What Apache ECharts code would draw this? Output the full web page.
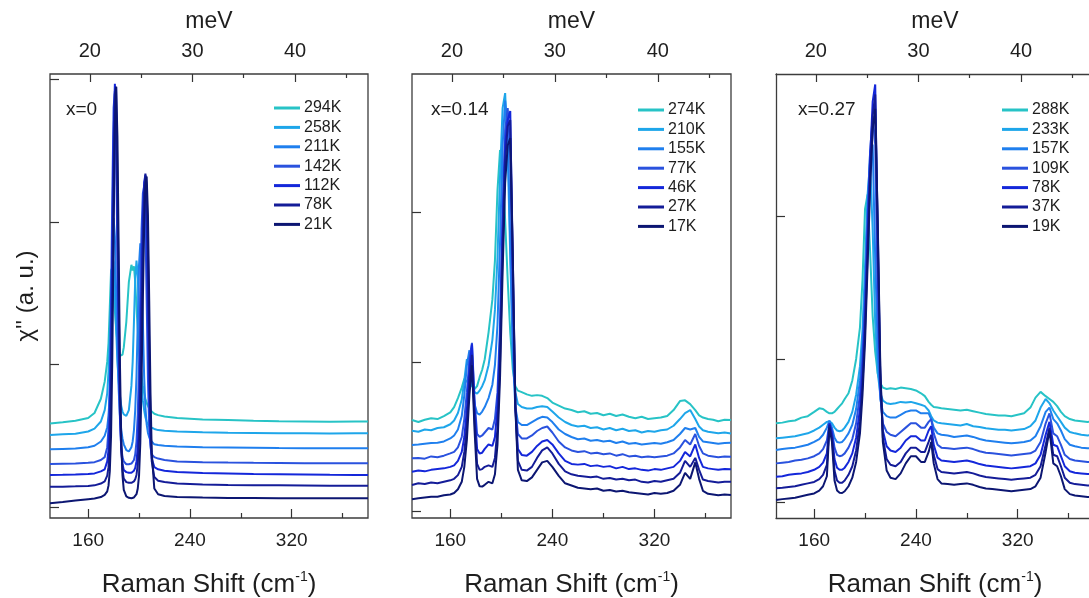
<!DOCTYPE html>
<html><head><meta charset="utf-8">
<script src="https://cdn.jsdelivr.net/npm/echarts@6/dist/echarts.min.js"></script>
<style>html,body{margin:0;padding:0;background:#fff}#c{width:1089px;height:598px}</style>
</head><body><div id="c"></div><script>
// ---------- DATA ----------
// Raman shift grids (cm^-1)
const shiftX0 = [130,140,150,160,165,170,173,175,176,177,178,179,180,181,182,183,184,185,186,187,188,190,192,194,195,196,197,198,199,200,201,202,203,204,205,206,207,208,209,210,212,215,220,230,250,270,290,310,330,350,370,380];
const shiftX014 = [130,135,140,145,150,155,160,163,166,169,171,173,175,177,179,181,183,185,187,190,193,195,197,199,201,203,205,207,209,211,213,216,220,224,228,232,236,240,245,250,255,260,265,270,275,280,285,290,295,300,305,310,315,320,325,330,335,340,344,348,352,355,358,362,366,370,375,380];
const shiftX027 = [130,135,140,145,150,155,160,164,167,170,172,174,176,178,180,182,184,187,190,193,196,198,200,202,204,206,208,210,212,214,217,220,224,228,232,236,240,244,247,250,252,254,257,260,265,270,275,280,285,290,295,300,305,310,315,320,325,330,334,338,342,345,348,351,354,357,361,365,370,375,380];

// x = 0 (chi'' in a.u., curves offset vertically)
const tempsX0 = ['294K','258K','211K','142K','112K','78K','21K'];
const x0_294K = [0.587,0.595,0.605,0.625,0.66,0.76,0.88, 1.02,1.15,1.40,1.66,1.68,1.55,1.38,1.25,1.16,1.10,1.06,1.05,1.07,1.12, 1.30,1.58,1.70, 1.66,1.69,1.58,1.40,1.25,1.10,1.00,0.92,0.85,0.80,0.76,0.73,0.71,0.69,0.68,0.67, 0.655,0.645,0.635,0.625, 0.615,0.61,0.605,0.602,0.60,0.598,0.60,0.60];
const x0_258K = [0.505,0.51,0.515,0.53,0.55,0.60,0.68, 0.80,0.95,1.20,1.50,1.76,1.72,1.52,1.25,1.02,0.88,0.78,0.71,0.67,0.65, 0.64,0.68,0.85, 1.02,1.30,1.60,1.73,1.62,1.35,1.08,0.88,0.75,0.68,0.63,0.60,0.58,0.57,0.56,0.555, 0.548,0.54,0.535,0.53, 0.525,0.522,0.52,0.518,0.517,0.516,0.517,0.517];
const x0_211K = [0.405,0.408,0.41,0.42,0.43,0.46,0.50, 0.56,0.64,0.80,1.15,1.65,2.03,1.90,1.50,1.10,0.82,0.64,0.54,0.48,0.44, 0.40,0.39,0.42, 0.46,0.54,0.68,0.92,1.30,1.70,1.85,1.70,1.30,0.92,0.70,0.58,0.52,0.49,0.47,0.46, 0.44,0.435,0.43,0.425, 0.42,0.418,0.416,0.414,0.413,0.412,0.412,0.412];
const x0_142K = [0.302,0.304,0.306,0.31,0.315,0.33,0.35, 0.42,0.55,0.85,1.45,2.2,2.8,2.92,2.5,1.75,1.05,0.62,0.42,0.35,0.32, 0.30,0.30,0.305, 0.31,0.33,0.37,0.46,0.65,1.0,1.5,1.95,2.2,2.25,2.0,1.45,0.9,0.55,0.42,0.37, 0.35,0.34,0.33,0.32, 0.315,0.312,0.31,0.309,0.308,0.307,0.307,0.307];
const x0_112K = [0.225,0.226,0.228,0.232,0.236,0.25,0.265, 0.32,0.40,0.62,1.1,1.85,2.6,2.97,2.75,2.0,1.2,0.65,0.40,0.30,0.26, 0.245,0.24,0.24, 0.245,0.255,0.275,0.32,0.42,0.65,1.05,1.55,2.0,2.28,2.33,2.05,1.45,0.85,0.48,0.34, 0.28,0.265,0.255,0.245, 0.238,0.235,0.232,0.23,0.228,0.226,0.225,0.225];
const x0_78K = [0.142,0.143,0.145,0.148,0.152,0.165,0.18, 0.22,0.28,0.45,0.85,1.5,2.3,2.9,2.95,2.3,1.45,0.8,0.42,0.26,0.2, 0.175,0.17,0.17, 0.172,0.18,0.195,0.225,0.3,0.48,0.85,1.35,1.85,2.2,2.34,2.25,1.8,1.1,0.6,0.32, 0.21,0.185,0.175,0.165, 0.158,0.155,0.153,0.152,0.151,0.15,0.149,0.149];
const x0_21K = [0.026,0.035,0.045,0.055,0.06,0.07,0.085, 0.11,0.15,0.25,0.5,1.05,1.9,2.65,2.95,2.6,1.8,1.0,0.48,0.22,0.12, 0.075,0.065,0.062, 0.063,0.067,0.075,0.09,0.13,0.22,0.45,0.9,1.45,1.95,2.25,2.32,2.05,1.45,0.8,0.38, 0.13,0.09,0.078,0.07, 0.066,0.064,0.063,0.062,0.062,0.061,0.061,0.061];

// x = 0.14
const tempsX014 = ['274K','210K','155K','77K','46K','27K','17K'];
const x014_274K = [0.613,0.60,0.615,0.625,0.62,0.64,0.665, 0.70,0.76,0.83, 0.89,0.87,0.86,0.84,0.82,0.84,0.90,0.95,1.02, 1.20,1.42, 1.68,2.15,2.42,2.30,1.95,1.55,1.20,0.95,0.84,0.81, 0.80,0.785,0.775,0.78,0.775,0.76,0.73, 0.71,0.69,0.68,0.665,0.672,0.655,0.66,0.645,0.655,0.64,0.65,0.635,0.625,0.635,0.62,0.625,0.63,0.64,0.68,0.74, 0.745,0.72,0.68,0.645,0.63,0.62,0.615,0.605,0.615,0.613];
const x014_210K = [0.542,0.535,0.55,0.545,0.56,0.565,0.585, 0.61,0.66,0.75, 0.88,1.02,0.98,0.86,0.80,0.79,0.81,0.84,0.88, 0.98,1.15, 1.35,1.70,2.25,2.70,2.80,2.40,1.70,1.10,0.80,0.72, 0.70,0.69,0.69,0.70,0.705,0.70,0.67, 0.63,0.60,0.58,0.57,0.575,0.56,0.565,0.55,0.56,0.545,0.555,0.54,0.545,0.53,0.54,0.535,0.545,0.55,0.575,0.62, 0.66,0.68,0.62,0.57,0.545,0.535,0.53,0.525,0.53,0.524];
const x014_155K = [0.446,0.45,0.455,0.46,0.462,0.47,0.49, 0.51,0.55,0.64, 0.78,0.98,1.08,0.90,0.72,0.66,0.65,0.67,0.70, 0.76,0.85, 0.98,1.25,1.80,2.45,2.75,2.55,1.80,1.05,0.70,0.60, 0.58,0.58,0.60,0.62,0.635,0.63,0.60, 0.55,0.52,0.50,0.485,0.49,0.475,0.48,0.47,0.475,0.46,0.47,0.455,0.46,0.45,0.455,0.46,0.455,0.465,0.48,0.52, 0.56,0.55,0.56,0.50,0.47,0.465,0.46,0.455,0.46,0.462];
const x014_77K = [0.357,0.36,0.355,0.37,0.365,0.375,0.39, 0.40,0.43,0.50, 0.62,0.80,1.02,1.13,0.75,0.52,0.50,0.51,0.53, 0.56,0.55, 0.62,0.80,1.25,2.00,2.55,2.70,2.40,1.40,0.70,0.52, 0.49,0.49,0.51,0.54,0.56,0.57,0.53, 0.47,0.43,0.41,0.40,0.405,0.39,0.395,0.385,0.39,0.375,0.385,0.37,0.375,0.365,0.37,0.365,0.37,0.375,0.39,0.43, 0.48,0.45,0.52,0.44,0.39,0.375,0.37,0.365,0.37,0.368];
const x014_46K = [0.268,0.275,0.27,0.28,0.285,0.29,0.30, 0.31,0.34,0.40, 0.50,0.68,0.95,1.12,0.70,0.42,0.39,0.395,0.42, 0.45,0.44, 0.50,0.70,1.15,1.90,2.45,2.62,2.68,1.60,0.70,0.42, 0.38,0.375,0.40,0.44,0.47,0.48,0.45, 0.39,0.34,0.32,0.315,0.32,0.305,0.31,0.30,0.305,0.29,0.30,0.285,0.29,0.28,0.275,0.285,0.28,0.29,0.30,0.34, 0.40,0.37,0.45,0.36,0.30,0.29,0.285,0.28,0.285,0.284];
const x014_27K = [0.179,0.19,0.185,0.195,0.19,0.20,0.21, 0.22,0.245,0.30, 0.40,0.58,0.88,1.05,0.62,0.32,0.28,0.285,0.30, 0.31,0.30, 0.36,0.56,1.00,1.75,2.35,2.58,2.62,1.70,0.70,0.34, 0.28,0.275,0.30,0.36,0.41,0.43,0.39, 0.32,0.27,0.25,0.24,0.235,0.23,0.235,0.22,0.225,0.215,0.22,0.21,0.215,0.20,0.195,0.205,0.20,0.21,0.22,0.26, 0.34,0.30,0.36,0.28,0.215,0.205,0.20,0.195,0.20,0.201];
const x014_17K = [0.083,0.09,0.095,0.10,0.10,0.11,0.115, 0.125,0.15,0.20, 0.30,0.48,0.78,0.98,0.55,0.22,0.17,0.168,0.18, 0.20,0.19, 0.25,0.45,0.90,1.60,2.20,2.45,2.50,1.70,0.70,0.28, 0.21,0.205,0.23,0.28,0.33,0.34,0.30, 0.24,0.19,0.175,0.16,0.155,0.15,0.155,0.14,0.145,0.135,0.14,0.13,0.125,0.12,0.115,0.125,0.12,0.125,0.14,0.18, 0.26,0.22,0.33,0.22,0.14,0.12,0.115,0.11,0.115,0.112];

// x = 0.27
const tempsX027 = ['288K','233K','157K','109K','78K','37K','19K'];
const x027_288K = [0.55,0.555,0.565,0.57,0.59,0.60,0.63, 0.655,0.65,0.63, 0.62,0.62,0.63,0.65,0.67,0.69,0.72, 0.76,0.85,1.00,1.22, 1.55,2.05,2.15,1.75,1.30,1.05,0.90,0.83,0.80, 0.79,0.795,0.79,0.80,0.795,0.79,0.78,0.76,0.74,0.70,0.68,0.665,0.66,0.655, 0.65,0.645,0.64,0.645,0.635,0.625,0.615,0.61,0.605,0.605,0.60,0.61,0.62,0.66, 0.73,0.77,0.74,0.72,0.70,0.67,0.63,0.60,0.58,0.57,0.565,0.56,0.562];
const x027_233K = [0.445,0.45,0.455,0.46,0.47,0.48,0.50, 0.52,0.54,0.56, 0.565,0.55,0.52,0.50,0.495,0.50,0.52, 0.56,0.63,0.75,0.95, 1.20,1.65,2.15,2.38,1.90,1.25,0.90,0.76,0.71, 0.69,0.685,0.69,0.70,0.695,0.70,0.69,0.68,0.67,0.64,0.60,0.57,0.555,0.55, 0.545,0.54,0.535,0.545,0.53,0.525,0.515,0.51,0.505,0.505,0.50,0.505,0.51,0.53, 0.57,0.66,0.72,0.69,0.64,0.60,0.56,0.52,0.49,0.48,0.47,0.465,0.469];
const x027_157K = [0.364,0.37,0.375,0.38,0.39,0.40,0.42, 0.44,0.47,0.52, 0.57,0.52,0.45,0.42,0.415,0.42,0.44, 0.48,0.54,0.65,0.85, 1.10,1.50,2.05,2.45,2.50,1.70,1.05,0.72,0.63, 0.60,0.59,0.59,0.61,0.63,0.64,0.64,0.62,0.62,0.62,0.58,0.52,0.48,0.47, 0.465,0.455,0.46,0.465,0.455,0.44,0.43,0.425,0.42,0.415,0.41,0.415,0.42,0.43, 0.46,0.53,0.63,0.66,0.58,0.55,0.50,0.44,0.40,0.39,0.38,0.375,0.375];
const x027_109K = [0.27,0.275,0.28,0.29,0.295,0.305,0.32, 0.34,0.37,0.43, 0.55,0.50,0.38,0.33,0.32,0.325,0.34, 0.38,0.44,0.55,0.75, 1.00,1.40,1.95,2.45,2.70,2.50,1.40,0.75,0.55, 0.49,0.47,0.46,0.49,0.52,0.55,0.55,0.52,0.52,0.56,0.58,0.48,0.40,0.38, 0.375,0.37,0.375,0.38,0.37,0.355,0.345,0.34,0.335,0.33,0.325,0.33,0.335,0.34, 0.36,0.42,0.55,0.62,0.48,0.46,0.40,0.33,0.30,0.29,0.285,0.28,0.282];
const x027_78K = [0.177,0.18,0.19,0.195,0.20,0.21,0.225, 0.245,0.275,0.34, 0.55,0.48,0.30,0.24,0.225,0.225,0.24, 0.28,0.34,0.45,0.65, 0.90,1.30,1.85,2.40,2.80,2.92,1.80,0.85,0.50, 0.39,0.36,0.35,0.38,0.43,0.46,0.46,0.43,0.43,0.50,0.53,0.40,0.31,0.29, 0.285,0.28,0.285,0.29,0.28,0.265,0.255,0.25,0.245,0.24,0.235,0.24,0.245,0.25, 0.27,0.33,0.47,0.56,0.40,0.39,0.32,0.25,0.215,0.205,0.20,0.195,0.20];
const x027_37K = [0.096,0.10,0.105,0.11,0.12,0.13,0.14, 0.16,0.19,0.26, 0.54,0.45,0.22,0.15,0.135,0.135,0.15, 0.19,0.25,0.36,0.56, 0.82,1.20,1.75,2.30,2.70,2.85,1.90,0.90,0.45, 0.30,0.26,0.25,0.28,0.34,0.38,0.38,0.35,0.35,0.42,0.47,0.33,0.23,0.21, 0.205,0.20,0.205,0.21,0.20,0.185,0.175,0.17,0.165,0.16,0.155,0.16,0.165,0.17, 0.19,0.25,0.40,0.52,0.33,0.32,0.25,0.17,0.135,0.125,0.12,0.115,0.119];
const x027_19K = [0.014,0.02,0.025,0.03,0.04,0.05,0.06, 0.08,0.11,0.18, 0.52,0.42,0.15,0.08,0.065,0.063,0.075, 0.11,0.17,0.28,0.48, 0.75,1.12,1.65,2.20,2.60,2.75,1.95,0.95,0.42, 0.22,0.17,0.16,0.20,0.27,0.32,0.32,0.28,0.28,0.35,0.42,0.27,0.16,0.13, 0.125,0.12,0.125,0.13,0.12,0.105,0.095,0.09,0.085,0.08,0.075,0.08,0.085,0.09, 0.11,0.17,0.35,0.50,0.27,0.25,0.18,0.09,0.055,0.045,0.04,0.035,0.037];

// axis ticks
const cmMajor = [160, 240, 320];
const cmMinor = [200, 280, 360];
const meVMajor = [20, 30, 40];
const meVMinor = [25, 35, 45];
const yTicks = [0, 1, 2, 3];
const CM_PER_MEV = 8.0655;
const shiftMin = 130, shiftMax = 380;

// ---------- STYLE ----------
const palette = ['#27c3c6', '#1ea6ea', '#1f7fee', '#2a52de', '#1427da', '#141c98', '#0c1672'];
const FONT = 'Liberation Sans, Arial, sans-serif';
const TXT = '#1e1e1e';
const panels = [
  { label: 'x=0', temps: tempsX0, x: shiftX0, ys: [x0_294K,x0_258K,x0_211K,x0_142K,x0_112K,x0_78K,x0_21K], yMin: -0.077, yMax: 3.039, left: 50, width: 318, box: true, legLeft: 274, legTop: 100, labLeft: 66 },
  { label: 'x=0.14', temps: tempsX014, x: shiftX014, ys: [x014_274K,x014_210K,x014_155K,x014_77K,x014_46K,x014_27K,x014_17K], yMin: -0.042, yMax: 2.928, left: 412, width: 319, box: true, legLeft: 638, legTop: 102, labLeft: 431 },
  { label: 'x=0.27', temps: tempsX027, x: shiftX027, ys: [x027_288K,x027_233K,x027_157K,x027_109K,x027_78K,x027_37K,x027_19K], yMin: -0.112, yMax: 2.993, left: 776, width: 318, box: false, legLeft: 1002, legTop: 102, labLeft: 798 }
];

const grid = [], xAxis = [], yAxis = [], series = [], legend = [], title = [];
const tickStyle = { color: '#333', width: 1.2 };
const frameLine = { show: true, onZero: false, lineStyle: { color: '#3c3c3c', width: 1.3 } };
const noLine = { show: false, onZero: false };
panels.forEach((p, i) => {
  grid.push({ left: p.left, top: 74, width: p.width, height: 444, show: p.box, borderColor: '#3c3c3c', borderWidth: 1.3, backgroundColor: 'transparent', containLabel: false, outerBoundsMode: 'none' });
  // bottom major
  xAxis.push({ gridIndex: i, type: 'value', min: shiftMin, max: shiftMax, position: 'bottom',
    axisLine: p.box ? noLine : frameLine, splitLine: { show: false },
    axisTick: { inside: true, length: 9, customValues: cmMajor, lineStyle: tickStyle },
    axisLabel: { customValues: cmMajor, fontSize: 19, margin: 13, color: TXT, fontFamily: FONT },
    name: '{a|Raman Shift (cm}{s|-1}{a|)}', nameLocation: 'middle', nameGap: 52,
    nameTextStyle: { rich: { a: { fontSize: 26, fontFamily: FONT, color: TXT }, s: { fontSize: 14, fontFamily: FONT, color: TXT, padding: [0, 0, 16, 0] } } } });
  // bottom minor
  xAxis.push({ gridIndex: i, type: 'value', min: shiftMin, max: shiftMax, position: 'bottom',
    axisLine: noLine, splitLine: { show: false },
    axisTick: { inside: true, length: 5, customValues: cmMinor, lineStyle: tickStyle },
    axisLabel: { show: false } });
  // top major (meV)
  xAxis.push({ gridIndex: i, type: 'value', min: shiftMin / CM_PER_MEV, max: shiftMax / CM_PER_MEV, position: 'top',
    axisLine: p.box ? noLine : frameLine, splitLine: { show: false },
    axisTick: { inside: true, length: 8, customValues: meVMajor, lineStyle: tickStyle },
    axisLabel: { customValues: meVMajor, fontSize: 20, margin: 13, color: TXT, fontFamily: FONT },
    name: 'meV', nameLocation: 'middle', nameGap: 41,
    nameTextStyle: { fontSize: 23, fontFamily: FONT, color: TXT } });
  // top minor
  xAxis.push({ gridIndex: i, type: 'value', min: shiftMin / CM_PER_MEV, max: shiftMax / CM_PER_MEV, position: 'top',
    axisLine: noLine, splitLine: { show: false },
    axisTick: { inside: true, length: 4, customValues: meVMinor, lineStyle: tickStyle },
    axisLabel: { show: false } });
  const ya = { gridIndex: i, type: 'value', min: p.yMin, max: p.yMax, position: 'left',
    axisLine: p.box ? noLine : frameLine, splitLine: { show: false },
    axisTick: { inside: true, length: 9, customValues: yTicks, lineStyle: tickStyle },
    axisLabel: { show: false } };
  if (i === 0) {
    ya.name = "χ'' (a. u.)"; ya.nameLocation = 'middle'; ya.nameGap = 12; ya.nameRotate = 90;
    ya.nameTextStyle = { fontSize: 24, fontFamily: FONT, color: TXT };
  }
  yAxis.push(ya);
  p.temps.forEach((t, j) => {
    series.push({ type: 'line', name: t, xAxisIndex: i * 4, yAxisIndex: i,
      data: p.x.map((xv, k) => [xv, p.ys[j][k]]),
      showSymbol: false, symbol: 'none', animation: false,
      lineStyle: { width: 2, color: palette[j] }, itemStyle: { color: palette[j] } });
  });
  legend.push({ orient: 'vertical', left: p.legLeft, top: p.legTop, padding: 0, icon: 'rect',
    itemWidth: 26, itemHeight: 3, itemGap: 3.4, selectedMode: false,
    textStyle: { fontSize: 16, lineHeight: 16, color: TXT, fontFamily: FONT, padding: [0, 0, 0, -1] },
    data: p.temps.map((t, j) => ({ name: t, itemStyle: { color: palette[j] } })) });
  title.push({ text: p.label, left: p.labLeft, top: 100, padding: 0,
    textStyle: { fontSize: 19, fontWeight: 'normal', color: TXT, fontFamily: FONT } });
});

const chart = echarts.init(document.getElementById('c'), null, { renderer: 'canvas' });
chart.setOption({ animation: false, backgroundColor: '#fff', grid, xAxis, yAxis, series, legend, title });
</script></body></html>
